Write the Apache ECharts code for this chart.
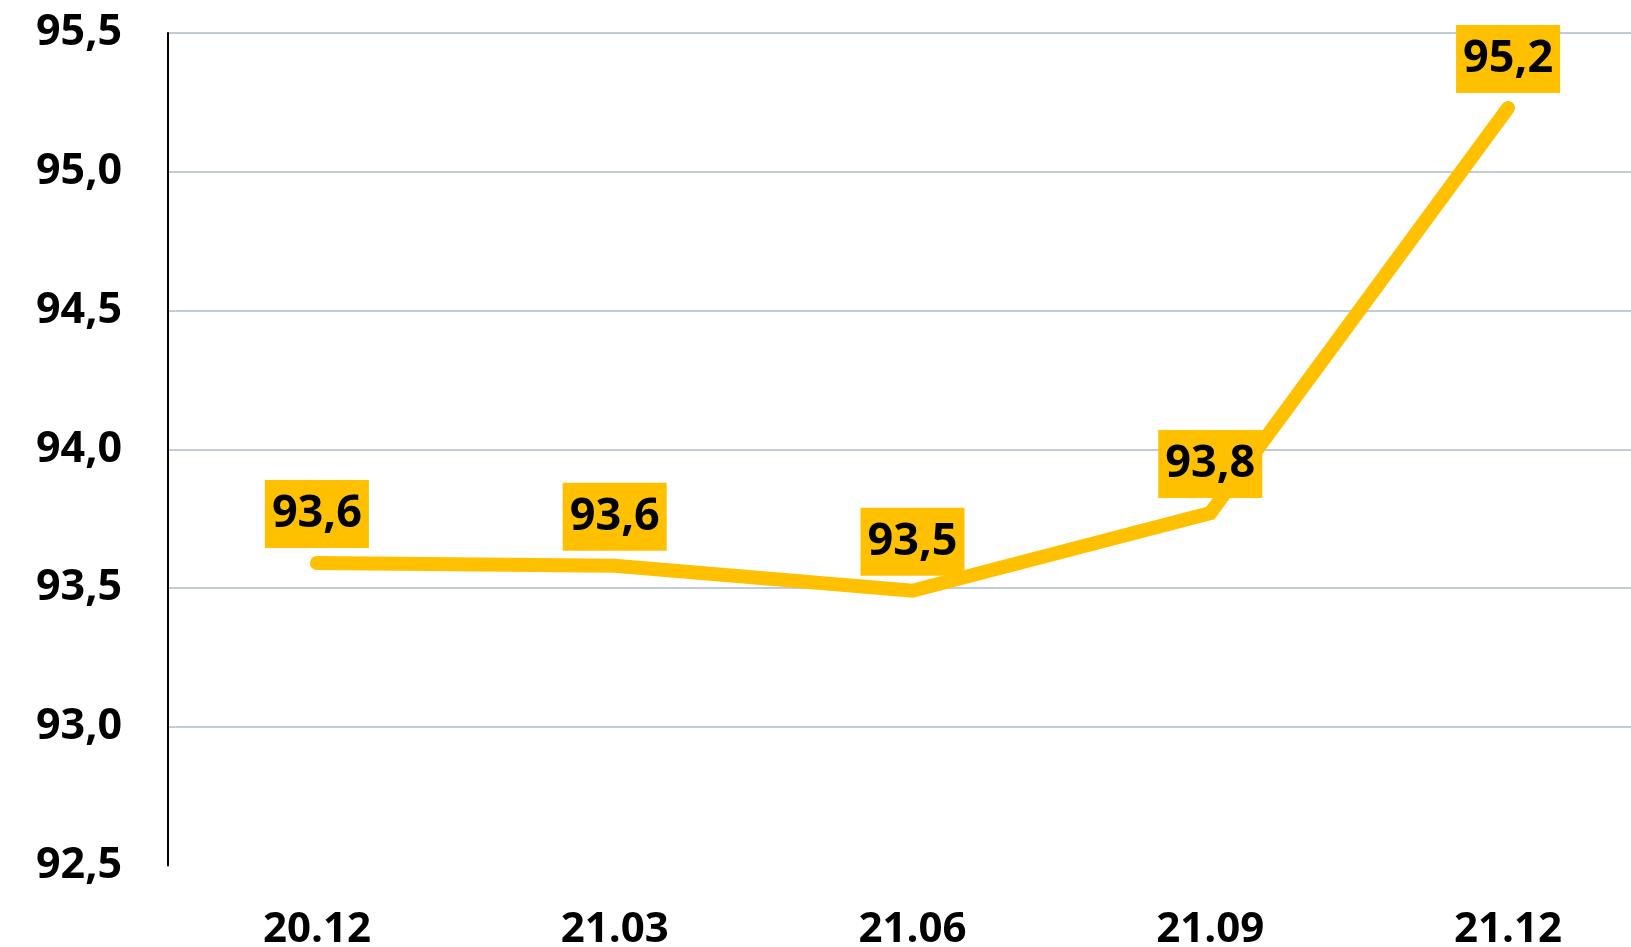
<!DOCTYPE html>
<html>
<head>
<meta charset="utf-8">
<script src="https://cdn.jsdelivr.net/npm/echarts@6/dist/echarts.min.js"></script>
<style>
  html, body { margin: 0; padding: 0; background: #fff; overflow: hidden; }
  /* 图表比窗口稍宽，最后一个类目的右半部分被裁掉 */
  #lineChart { width: 1657px; height: 947px; }
</style>
</head>
<body>
<div id="lineChart"></div>
<script>
// 数据
var categories = ['20.12', '21.03', '21.06', '21.09', '21.12'];
var values = [93.59, 93.58, 93.49, 93.77, 95.23];
var yTicks = { min: 92.5, max: 95.5, step: 0.5 };

function comma(v, d) {
    return Number(v).toFixed(d).replace('.', ',');
}

var myChart = echarts.init(document.getElementById('lineChart'));
var option = {
    animation: false,
    backgroundColor: '#fff',
    grid: {
        left: 168,
        right: 0,
        top: 33,
        bottom: 81.5,
        outerBoundsMode: 'none'
    },
    xAxis: {
        type: 'category',
        data: categories,
        boundaryGap: true,
        axisLine: { show: false },
        axisTick: { show: false },
        axisLabel: {
            margin: 44,
            fontFamily: 'Open Sans',
            fontWeight: 'bold',
            fontSize: 42,
            color: '#000'
        }
    },
    yAxis: {
        type: 'value',
        min: yTicks.min,
        max: yTicks.max,
        interval: yTicks.step,
        axisLine: {
            show: true,
            lineStyle: { color: '#000', width: 2 }
        },
        axisTick: { show: false },
        axisLabel: {
            margin: 46,
            padding: [14, 0, 0, 0],
            fontFamily: 'Open Sans',
            fontWeight: 'bold',
            fontSize: 43,
            color: '#000',
            formatter: function (v) { return comma(v, 1); }
        },
        splitLine: {
            show: true,
            showMinLine: false,
            lineStyle: { color: '#AEBACD', width: 1.5 }
        }
    },
    series: [{
        type: 'line',
        data: values,
        symbol: 'circle',
        symbolSize: 2,
        itemStyle: { color: '#FFC000' },
        lineStyle: {
            color: '#FFC000',
            width: 14,
            cap: 'round',
            join: 'miter'
        },
        label: {
            show: true,
            position: 'top',
            distance: 14,
            backgroundColor: '#FFC000',
            padding: [9, 7, 9, 7],
            lineHeight: 50,
            fontFamily: 'Open Sans',
            fontWeight: 'bold',
            fontSize: 45,
            color: '#000',
            formatter: function (p) { return comma(p.value, 1); }
        }
    }]
};
myChart.setOption(option);
</script>
</body>
</html>
